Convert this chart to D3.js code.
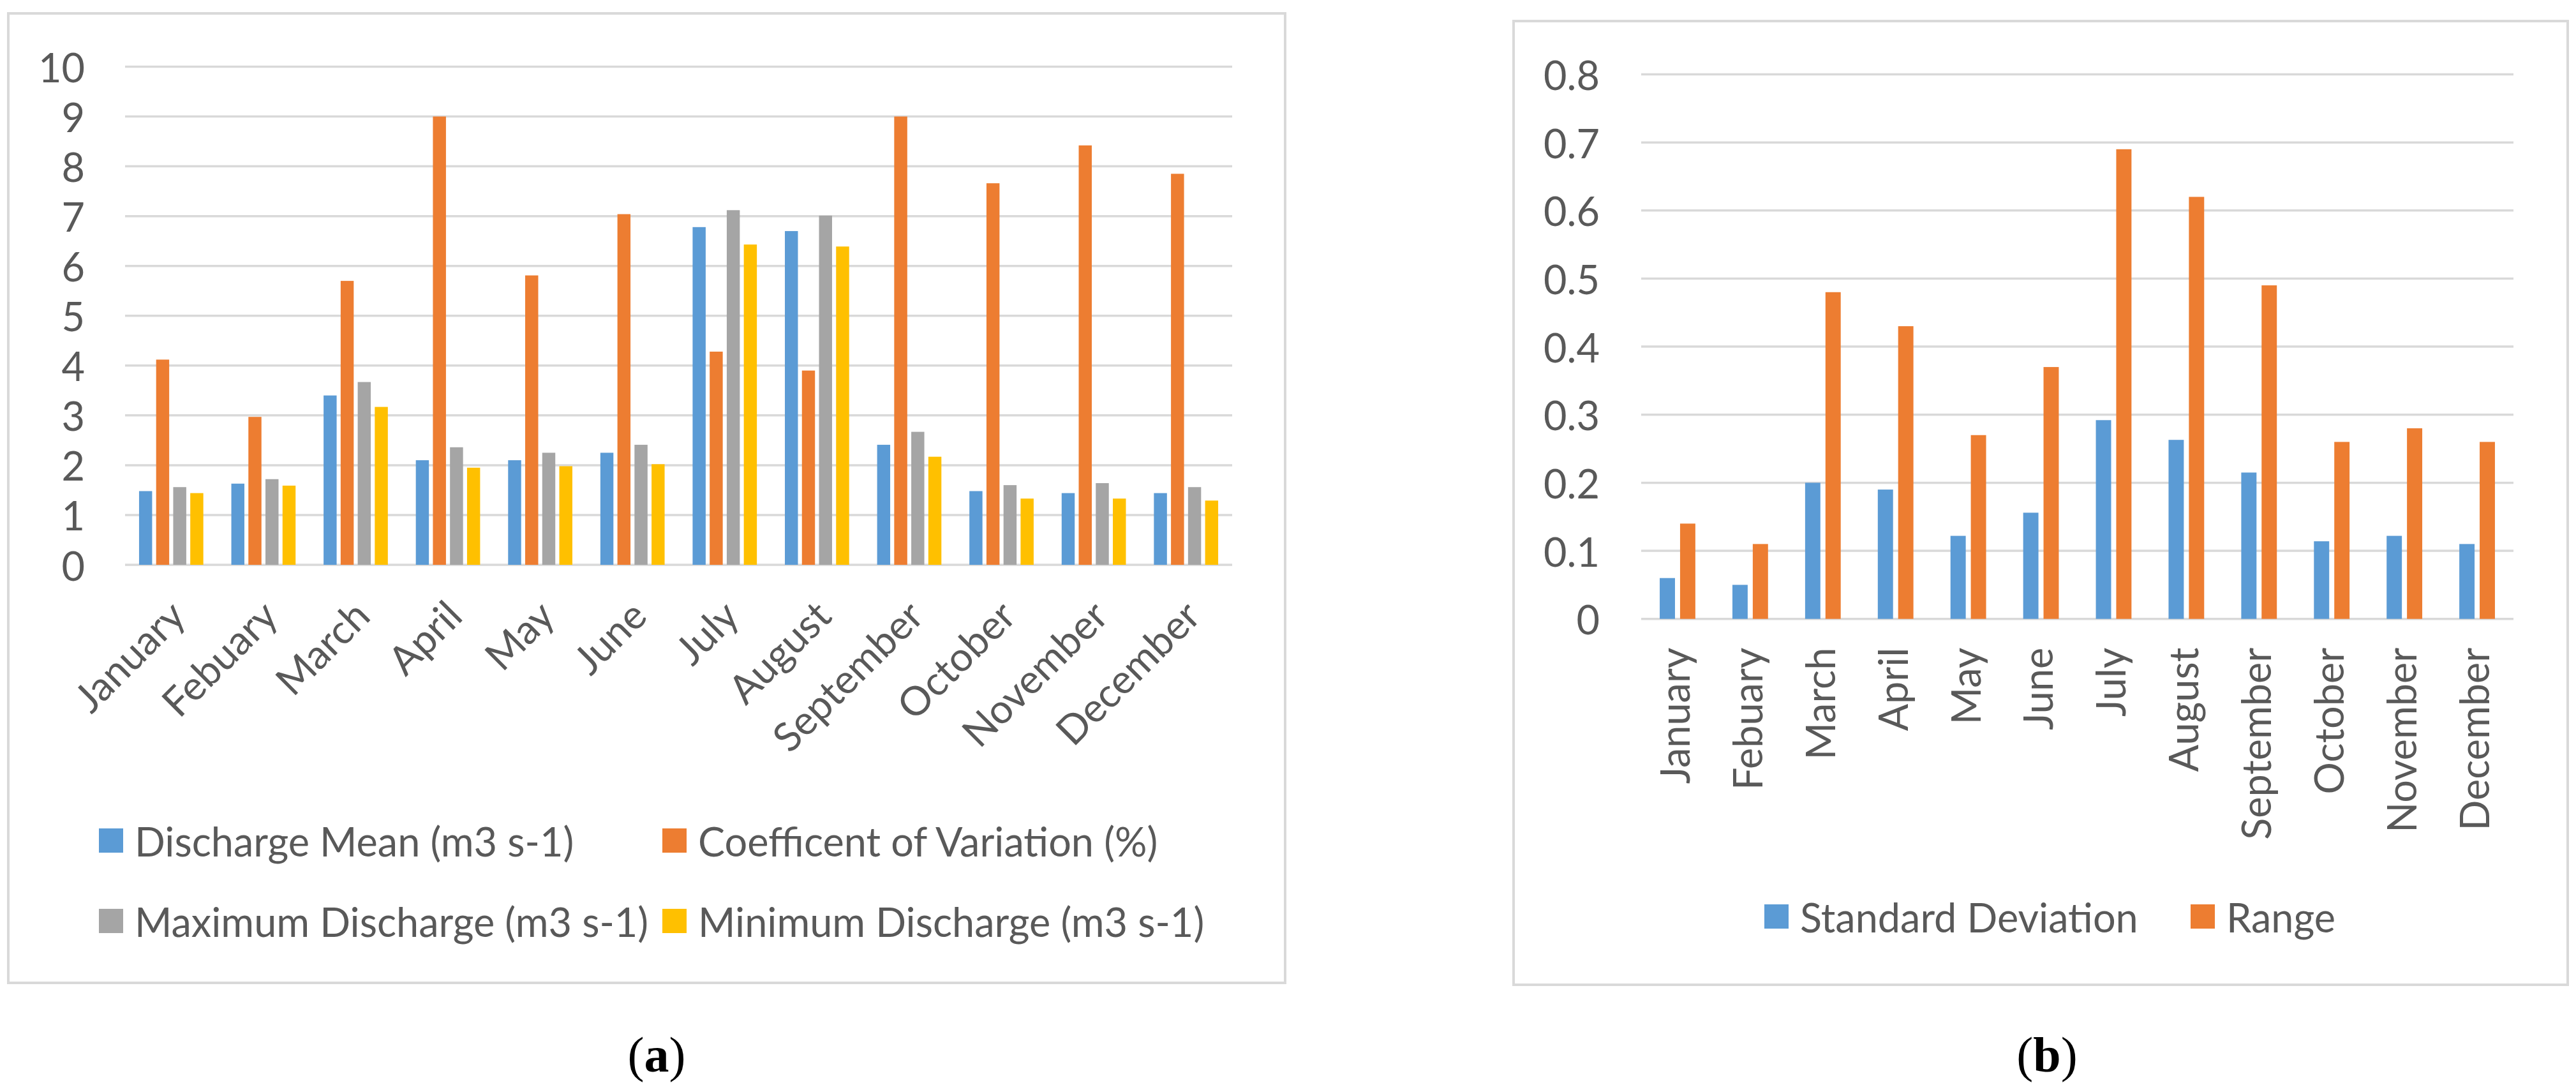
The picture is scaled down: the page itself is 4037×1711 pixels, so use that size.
<!DOCTYPE html>
<html>
<head>
<meta charset="utf-8">
<script src="https://cdn.jsdelivr.net/npm/d3@7"></script>
<style>
  body { margin: 0; background: #fff; }
  text { font-family: Lato, "Open Sans", sans-serif; fill: #595959; }
</style>
</head>
<body>
<script>
// data
const months = ["January", "Febuary", "March", "April", "May", "June", "July",
  "August", "September", "October", "November", "December"];

const dischargeMean = [1.48, 1.63, 3.40, 2.10, 2.10, 2.25, 6.78, 6.70, 2.41, 1.48, 1.44, 1.44];
const coefVariation = [4.12, 2.97, 5.70, 9.00, 5.81, 7.04, 4.28, 3.90, 9.00, 7.66, 8.42, 7.85];
const maxDischarge = [1.56, 1.72, 3.67, 2.36, 2.25, 2.41, 7.12, 7.01, 2.67, 1.60, 1.64, 1.56];
const minDischarge = [1.44, 1.59, 3.17, 1.95, 1.98, 2.02, 6.43, 6.39, 2.17, 1.33, 1.33, 1.29];

const stdDeviation = [0.06, 0.05, 0.20, 0.19, 0.122, 0.156, 0.292, 0.263, 0.215, 0.114, 0.122, 0.11];
const rangeValues = [0.14, 0.11, 0.48, 0.43, 0.27, 0.37, 0.69, 0.62, 0.49, 0.26, 0.28, 0.26];

const seriesA = ["Discharge Mean (m3 s-1)", "Coefficent of Variation (%)",
  "Maximum Discharge (m3 s-1)", "Minimum Discharge (m3 s-1)"];
const seriesB = ["Standard Deviation", "Range"];

const ticksA = [0, 1, 2, 3, 4, 5, 6, 7, 8, 9, 10];
const ticksB = [0, 0.1, 0.2, 0.3, 0.4, 0.5, 0.6, 0.7, 0.8];

const colors = ["#5B9BD5", "#ED7D31", "#A5A5A5", "#FFC000"];
const grid = "#D9D9D9";
const fs = 63;

const svg = d3.select("body").append("svg")
  .attr("width", 4037)
  .attr("height", 1711);

svg.append("rect").attr("width", 4037).attr("height", 1711).attr("fill", "#fff");

function drawPanel(opt) {
  const g = svg.append("g");

  // chart border
  g.append("rect")
    .attr("x", opt.box[0]).attr("y", opt.box[1])
    .attr("width", opt.box[2] - opt.box[0]).attr("height", opt.box[3] - opt.box[1])
    .attr("fill", "none").attr("stroke", grid).attr("stroke-width", 4);

  const y = d3.scaleLinear().domain([0, opt.ymax]).range([opt.plot[3], opt.plot[1]]);
  const x0 = d3.scaleBand().domain(months).range([opt.plot[0], opt.plot[2]])
    .paddingInner(opt.groupPad).paddingOuter(opt.groupPad / 2);
  const x1 = d3.scaleBand().domain(d3.range(opt.data.length)).range([0, x0.bandwidth()])
    .paddingInner(opt.barPad).paddingOuter(opt.barPad / 2);

  // gridlines
  g.selectAll(".grid").data(opt.ticks).enter().append("line")
    .attr("x1", opt.plot[0]).attr("x2", opt.plot[2])
    .attr("y1", d => y(d)).attr("y2", d => y(d))
    .attr("stroke", grid).attr("stroke-width", 3.5);

  // y tick labels
  g.selectAll(".ylab").data(opt.ticks).enter().append("text")
    .attr("x", opt.ylabX).attr("y", d => y(d))
    .attr("text-anchor", "end").attr("dominant-baseline", "central")
    .attr("font-size", fs)
    .text(d => d);

  // bars
  opt.data.forEach((vals, s) => {
    g.selectAll(".bar" + s).data(vals).enter().append("rect")
      .attr("x", (d, i) => x0(months[i]) + x1(s))
      .attr("y", d => y(d))
      .attr("width", x1.bandwidth())
      .attr("height", d => y(0) - y(d))
      .attr("fill", colors[s]);
  });

  // month labels
  g.selectAll(".xlab").data(months).enter().append("text")
    .attr("transform", d => {
      const cx = x0(d) + x0.bandwidth() / 2;
      return "translate(" + (cx + opt.xlabOff[0]) + "," + (y(0) + opt.xlabOff[1]) + ") rotate(" + opt.rot + ")";
    })
    .attr("text-anchor", "end")
    .attr("dy", opt.rot === -90 ? "0.3em" : 0)
    .attr("font-size", fs)
    .text(d => d);

  // legend
  opt.legend.forEach((l, i) => {
    g.append("rect")
      .attr("x", l[0]).attr("y", l[1] - 19)
      .attr("width", 38).attr("height", 38)
      .attr("fill", colors[i]);
    g.append("text")
      .attr("x", l[0] + 56).attr("y", l[1])
      .attr("dominant-baseline", "central")
      .attr("font-size", fs)
      .text(opt.names[i]);
  });

  // caption
  const cap = svg.append("text")
    .attr("x", opt.caption[0]).attr("y", opt.caption[1])
    .attr("text-anchor", "middle")
    .style("font-family", "'Liberation Serif', serif")
    .style("fill", "#000")
    .attr("font-size", 78);
  cap.append("tspan").text("(");
  cap.append("tspan").attr("font-weight", "bold").text(opt.letter);
  cap.append("tspan").text(")");
}

drawPanel({
  box: [13, 21, 2014, 1540],
  plot: [196, 104.5, 1931, 885],
  ymax: 10,
  ticks: ticksA,
  ylabX: 133,
  data: [dischargeMean, coefVariation, maxDischarge, minDischarge],
  names: seriesA,
  groupPad: 0.26,
  barPad: 0.235,
  rot: -45,
  xlabOff: [26, 84],
  legend: [[155, 1317], [1038, 1317], [155, 1443], [1038, 1443]],
  caption: [1029, 1679],
  letter: "a"
});

drawPanel({
  box: [2372, 33, 4024, 1543],
  plot: [2572, 116.5, 3939, 969.7],
  ymax: 0.8,
  ticks: ticksB,
  ylabX: 2507,
  data: [stdDeviation, rangeValues],
  names: seriesB,
  groupPad: 0.44,
  barPad: 0.25,
  rot: -90,
  xlabOff: [0, 45],
  legend: [[2765, 1436], [3433, 1436]],
  caption: [3208, 1679],
  letter: "b"
});
</script>
</body>
</html>
